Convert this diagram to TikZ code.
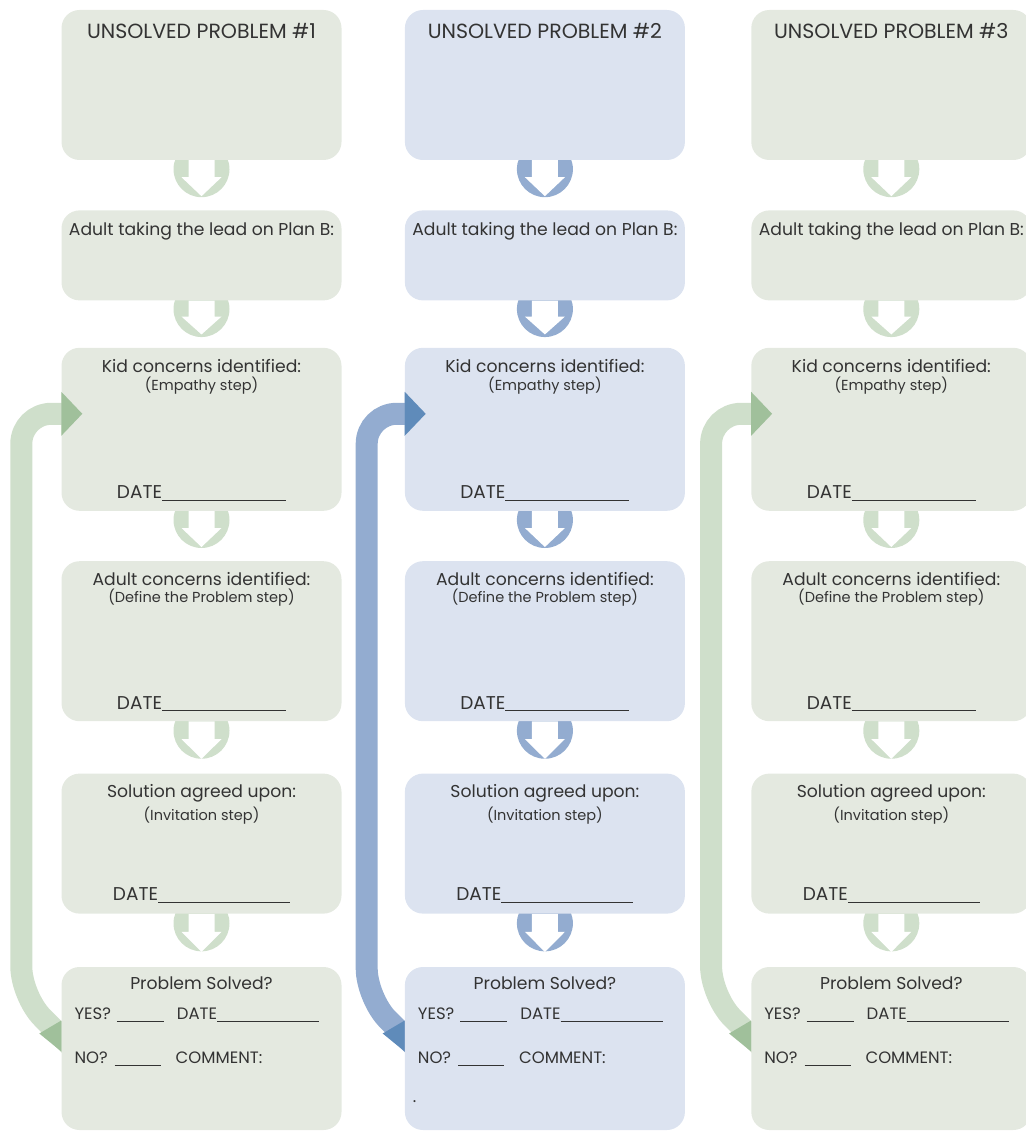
\documentclass[tikz,border=0pt]{standalone}
\usepackage{fontspec}
\setmainfont{Poppins}
\usepackage{tikz}
\usepackage{xcolor}
\usetikzlibrary{positioning, calc, backgrounds}

\definecolor{ink}{HTML}{333333}
\definecolor{gfill}{HTML}{E4E9E0}
\definecolor{gconn}{HTML}{CFDFCB}
\definecolor{gdark}{HTML}{A0C09B}
\definecolor{bfill}{HTML}{DCE3F0}
\definecolor{bconn}{HTML}{93ACD0}
\definecolor{bdark}{HTML}{5F8BBA}

\tikzset{
  box/.style={rounded corners=18pt, minimum width=280pt, inner sep=0pt},
  gbox/.style={box, fill=gfill},
  bbox/.style={box, fill=bfill},
  title/.style={font=\fontsize{20.5}{22}\selectfont, inner sep=0pt},
  main/.style={font=\fontsize{17.2}{19}\selectfont, inner sep=0pt},
  sub/.style={font=\fontsize{14.5}{16}\selectfont, inner sep=0pt},
  datefield/.style={font=\fontsize{18.5}{20}\selectfont, inner sep=0pt},
  field/.style={font=\fontsize{16.5}{18}\selectfont, inner sep=0pt},
  loopline/.style={line width=22pt, rounded corners=30pt}
}

% fill-in line of given length
\newcommand{\blank}[1]{\rule[-2pt]{#1}{0.8pt}}

% round step arrow from box #1 down to box #2 in colour #3
\newcommand{\stepdown}[3]{
  \fill[#3] ($(#1.south)!0.18!(#2.north)$) circle[radius=28pt];
  \fill[white] ($(#1.south)+(-13pt,0)$) -- ($(#1.south)!0.34!(#2.north)+(-13pt,0)$)
    -- ($(#1.south)!0.34!(#2.north)+(-20pt,0)$) -- ($(#1.south)!0.72!(#2.north)$)
    -- ($(#1.south)!0.34!(#2.north)+(20pt,0)$) -- ($(#1.south)!0.34!(#2.north)+(13pt,0)$)
    -- ($(#1.south)+(13pt,0)$) -- cycle;
}

\begin{document}
\begin{tikzpicture}[text=ink]
\useasboundingbox (0pt,0pt) rectangle (1025pt,-1131pt);

% column 1
\node[gbox, minimum height=150pt] (prob1) at (201.5pt,-85pt) {};
\node[gbox, minimum height=90pt, below=50pt of prob1] (lead1) {};
\node[gbox, minimum height=163pt, below=47pt of lead1] (kid1) {};
\node[gbox, minimum height=160pt, below=50pt of kid1] (adult1) {};
\node[gbox, minimum height=140pt, below=52pt of adult1] (agree1) {};
\node[gbox, minimum height=163pt, below=53pt of agree1] (solved1) {};

% column 2
\node[bbox, minimum height=150pt, right=63pt of prob1] (prob2) {};
\node[bbox, minimum height=90pt, below=50pt of prob2] (lead2) {};
\node[bbox, minimum height=163pt, below=47pt of lead2] (kid2) {};
\node[bbox, minimum height=160pt, below=50pt of kid2] (adult2) {};
\node[bbox, minimum height=140pt, below=52pt of adult2] (agree2) {};
\node[bbox, minimum height=163pt, below=53pt of agree2] (solved2) {};

% column 3
\node[gbox, minimum height=150pt, right=66pt of prob2] (prob3) {};
\node[gbox, minimum height=90pt, below=50pt of prob3] (lead3) {};
\node[gbox, minimum height=163pt, below=47pt of lead3] (kid3) {};
\node[gbox, minimum height=160pt, below=50pt of kid3] (adult3) {};
\node[gbox, minimum height=140pt, below=52pt of adult3] (agree3) {};
\node[gbox, minimum height=163pt, below=53pt of agree3] (solved3) {};

% texts
\node[title, below=13pt of prob1.north] (prob1t) {UNSOLVED PROBLEM \#1};
\node[main, below=12pt of lead1.north] (lead1t) {Adult taking the lead on Plan B:};
\node[main, below=12pt of kid1.north] (kid1t) {Kid concerns identified:};
\node[sub, below=3pt of kid1t] (kid1s) {(Empathy step)};
\node[datefield, above=10pt of kid1.south] (kid1d) {DATE\blank{124pt}};
\node[main, below=11pt of adult1.north] (adult1t) {Adult concerns identified:};
\node[sub, below=3pt of adult1t] (adult1s) {(Define the Problem step)};
\node[datefield, above=10pt of adult1.south] (adult1d) {DATE\blank{124pt}};
\node[main, below=11pt of agree1.north] (agree1t) {Solution agreed upon:};
\node[sub, below=4pt of agree1t] (agree1s) {(Invitation step)};
\node[datefield, above=11pt of agree1.south] (agree1d) {DATE\blank{132pt}};
\node[main, below=10pt of solved1.north] (solved1t) {Problem Solved?};
\node[field, below right=41pt and 13pt of solved1.north west] (solved1y) {YES?\hspace{6pt}\blank{47pt}\hspace{13pt}DATE\blank{102pt}};
\node[field, below right=85pt and 13pt of solved1.north west] (solved1n) {NO?\hspace{7pt}\blank{46pt}\hspace{15pt}COMMENT:};

\node[title, below=13pt of prob2.north] (prob2t) {UNSOLVED PROBLEM \#2};
\node[main, below=12pt of lead2.north] (lead2t) {Adult taking the lead on Plan B:};
\node[main, below=12pt of kid2.north] (kid2t) {Kid concerns identified:};
\node[sub, below=3pt of kid2t] (kid2s) {(Empathy step)};
\node[datefield, above=10pt of kid2.south] (kid2d) {DATE\blank{124pt}};
\node[main, below=11pt of adult2.north] (adult2t) {Adult concerns identified:};
\node[sub, below=3pt of adult2t] (adult2s) {(Define the Problem step)};
\node[datefield, above=10pt of adult2.south] (adult2d) {DATE\blank{124pt}};
\node[main, below=11pt of agree2.north] (agree2t) {Solution agreed upon:};
\node[sub, below=4pt of agree2t] (agree2s) {(Invitation step)};
\node[datefield, above=11pt of agree2.south] (agree2d) {DATE\blank{132pt}};
\node[main, below=10pt of solved2.north] (solved2t) {Problem Solved?};
\node[field, below right=41pt and 13pt of solved2.north west] (solved2y) {YES?\hspace{6pt}\blank{47pt}\hspace{13pt}DATE\blank{102pt}};
\node[field, below right=85pt and 13pt of solved2.north west] (solved2n) {NO?\hspace{7pt}\blank{46pt}\hspace{15pt}COMMENT:};
\node[field, below right=134pt and 8pt of solved2.north west] (solved2dot) {.};

\node[title, below=13pt of prob3.north] (prob3t) {UNSOLVED PROBLEM \#3};
\node[main, below=12pt of lead3.north] (lead3t) {Adult taking the lead on Plan B:};
\node[main, below=12pt of kid3.north] (kid3t) {Kid concerns identified:};
\node[sub, below=3pt of kid3t] (kid3s) {(Empathy step)};
\node[datefield, above=10pt of kid3.south] (kid3d) {DATE\blank{124pt}};
\node[main, below=11pt of adult3.north] (adult3t) {Adult concerns identified:};
\node[sub, below=3pt of adult3t] (adult3s) {(Define the Problem step)};
\node[datefield, above=10pt of adult3.south] (adult3d) {DATE\blank{124pt}};
\node[main, below=11pt of agree3.north] (agree3t) {Solution agreed upon:};
\node[sub, below=4pt of agree3t] (agree3s) {(Invitation step)};
\node[datefield, above=11pt of agree3.south] (agree3d) {DATE\blank{132pt}};
\node[main, below=10pt of solved3.north] (solved3t) {Problem Solved?};
\node[field, below right=41pt and 13pt of solved3.north west] (solved3y) {YES?\hspace{6pt}\blank{47pt}\hspace{13pt}DATE\blank{102pt}};
\node[field, below right=85pt and 13pt of solved3.north west] (solved3n) {NO?\hspace{7pt}\blank{46pt}\hspace{15pt}COMMENT:};

% step arrows and loops behind the boxes
\begin{scope}[on background layer]
\stepdown{prob1}{lead1}{gconn}
\stepdown{lead1}{kid1}{gconn}
\stepdown{kid1}{adult1}{gconn}
\stepdown{adult1}{agree1}{gconn}
\stepdown{agree1}{solved1}{gconn}
\stepdown{prob2}{lead2}{bconn}
\stepdown{lead2}{kid2}{bconn}
\stepdown{kid2}{adult2}{bconn}
\stepdown{adult2}{agree2}{bconn}
\stepdown{agree2}{solved2}{bconn}
\stepdown{prob3}{lead3}{gconn}
\stepdown{lead3}{kid3}{gconn}
\stepdown{kid3}{adult3}{gconn}
\stepdown{adult3}{agree3}{gconn}
\stepdown{agree3}{solved3}{gconn}
\draw[loopline, gconn] ([shift={(15pt,-3pt)}]solved1.west) -- ++(-55pt,55pt) |- ([shift={(10pt,15.5pt)}]kid1.west);
\draw[loopline, bconn] ([shift={(15pt,-3pt)}]solved2.west) -- ++(-53pt,53pt) |- ([shift={(10pt,15.5pt)}]kid2.west);
\draw[loopline, gconn] ([shift={(15pt,-3pt)}]solved3.west) -- ++(-55pt,55pt) |- ([shift={(10pt,15.5pt)}]kid3.west);
\end{scope}

% loop heads and tails
\fill[gdark] ([yshift=37.5pt]kid1.west) -- ([shift={(21pt,15.5pt)}]kid1.west) -- ([yshift=-6.5pt]kid1.west) -- cycle;
\fill[gdark] ([yshift=28pt]solved1.west) -- ([yshift=-3pt]solved1.west) -- ([shift={(-22pt,15pt)}]solved1.west) -- cycle;
\fill[bdark] ([yshift=37.5pt]kid2.west) -- ([shift={(21pt,15.5pt)}]kid2.west) -- ([yshift=-6.5pt]kid2.west) -- cycle;
\fill[bdark] ([yshift=28pt]solved2.west) -- ([yshift=-3pt]solved2.west) -- ([shift={(-22pt,15pt)}]solved2.west) -- cycle;
\fill[gdark] ([yshift=37.5pt]kid3.west) -- ([shift={(21pt,15.5pt)}]kid3.west) -- ([yshift=-6.5pt]kid3.west) -- cycle;
\fill[gdark] ([yshift=28pt]solved3.west) -- ([yshift=-3pt]solved3.west) -- ([shift={(-22pt,15pt)}]solved3.west) -- cycle;
\end{tikzpicture}
\end{document}
